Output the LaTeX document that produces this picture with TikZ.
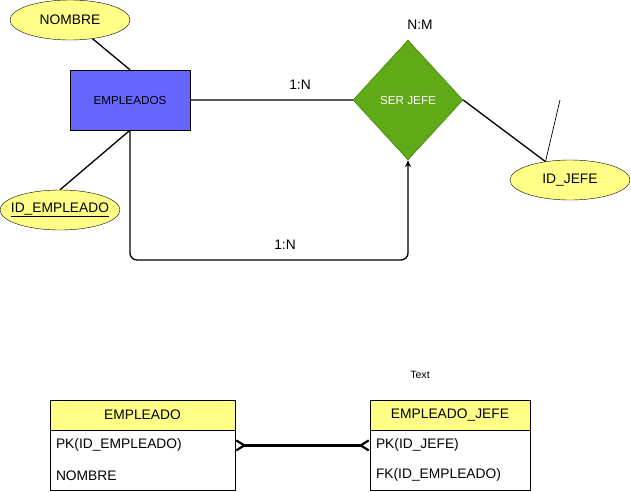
\documentclass[tikz,border=0pt]{standalone}
\usepackage{fontspec}
\setmainfont{Liberation Sans}
\usetikzlibrary{shapes.geometric,arrows.meta}
\definecolor{attrfill}{HTML}{FFFF88}
\definecolor{entfill}{HTML}{6666FF}
\definecolor{relfill}{HTML}{60A917}
\definecolor{reldraw}{HTML}{2D7600}
\tikzset{
  attr/.style={draw,ellipse,fill=attrfill,inner sep=0pt,minimum width=120pt,minimum height=40pt,font=\fontsize{13.8}{16}\selectfont},
  ent/.style={draw,rectangle,fill=entfill,minimum width=120pt,minimum height=60pt,font=\fontsize{11.7}{14}\selectfont},
  rel/.style={draw=reldraw,diamond,fill=relfill,text=white,inner sep=0pt,aspect=0.92,minimum width=110pt,minimum height=120pt,font=\fontsize{11.7}{14}\selectfont},
  lbl/.style={font=\fontsize{13.8}{16}\selectfont},
  link/.style={line width=1.3pt},
  tblhead/.style={draw,fill=attrfill,minimum height=30pt,font=\fontsize{13.8}{16}\selectfont},
  tblbody/.style={draw,fill=white,minimum height=60pt},
  rowtxt/.style={anchor=west,inner sep=0pt,font=\fontsize{13.8}{16}\selectfont},
  crow/.tip={Straight Barb[reversed,length=8pt,width=10pt,line width=2.2pt]}
}
\begin{document}
\begin{tikzpicture}[x=1pt,y=-1pt]
  \useasboundingbox (0,0) rectangle (631,491);
  % diagrama entidad-relacion
  \node[attr] (nombre) at (70,20) {NOMBRE};
  \node[ent] (emp) at (130,100) {EMPLEADOS};
  \node[attr,inner xsep=-7pt] (idemp) at (60,210) {\underline{ID\_EMPLEADO}};
  \node[rel] (jefe) at (408,100) {SER JEFE};
  \node[attr] (idjefe) at (570,180) {ID\_JEFE};
  \node[lbl] (nm) at (420,25) {N:M};
  \node[lbl] (uno) at (300,85) {1:N};
  \node[lbl] (dos) at (285,245) {1:N};
  \coordinate (bend) at (408,260);
  \coordinate (cabo) at (560,100);
  \coordinate (pie) at (545.5,161.5);
  \draw[link] (nombre) -- (emp.north) (idemp.north) -- (emp.south);
  \draw[link] (emp.east) -- (jefe.west) (jefe.east) -- (idjefe);
  \draw[line width=0.7pt] (cabo) -- (pie);
  \draw[link,rounded corners=7pt,-{Stealth[length=7pt,width=6pt]}] (emp.south) |- (bend) -- (jefe.south);
  % modelo relacional
  \node[font=\fontsize{10.6}{12}\selectfont] (txt) at (420,375) {Text};
  \node[tblhead,minimum width=185pt] (emph) at (142.5,415) {EMPLEADO};
  \node[tblbody,minimum width=185pt,anchor=north] (empb) at (emph.south) {};
  \node[rowtxt] (emppk) at ([xshift=6pt,yshift=15pt]empb.west) {PK(ID\_EMPLEADO)};
  \node[rowtxt] (empnom) at ([xshift=6pt,yshift=-15pt]empb.west) {NOMBRE};
  \node[tblhead,minimum width=160pt] (jefh) at (450,415) {EMPLEADO\_JEFE};
  \node[tblbody,minimum width=160pt,anchor=north] (jefb) at (jefh.south) {};
  \node[rowtxt] (jefpk) at ([xshift=6pt,yshift=15pt]jefb.west) {PK(ID\_JEFE)};
  \node[rowtxt] (jeffk) at ([xshift=6pt,yshift=-15pt]jefb.west) {FK(ID\_EMPLEADO)};
  \draw[line width=2.6pt,crow-crow] (empb.east |- emppk) -- (jefb.west |- jefpk);
\end{tikzpicture}
\end{document}
